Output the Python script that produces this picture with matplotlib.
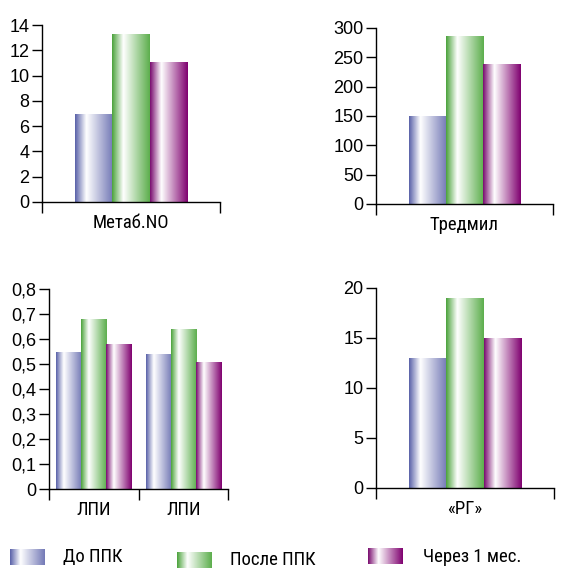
import numpy as np
import matplotlib.pyplot as plt
from matplotlib.colors import LinearSegmentedColormap
from matplotlib.ticker import FuncFormatter

plt.rcParams['font.family'] = ['Roboto Condensed', 'DejaVu Sans']
plt.rcParams['font.size'] = 13.5
num_font = {'family': ['Liberation Sans', 'DejaVu Sans'], 'size': 13}

series = ['До ППК', 'После ППК', 'Через 1 мес.']

metab_cats = ['Метаб.NO']
metab_vals = [[7.0], [13.3], [11.1]]

tred_cats = ['Тредмил']
tred_vals = [[150], [287], [238]]

lpi_cats = ['ЛПИ', 'ЛПИ']
lpi_vals = [[0.55, 0.54], [0.68, 0.64], [0.58, 0.51]]

rg_cats = ['«РГ»']
rg_vals = [[13], [19], [15]]

# left edge / highlight / right edge of each bar's shading
shades = [
    ['#5860a8', '#ffffff', '#7379b6'],
    ['#4aa23a', '#ffffff', '#5cae4c'],
    ['#780a6e', '#ffffff', '#7f006f'],
]
cmaps = [LinearSegmentedColormap.from_list('s%d' % i, [(0, c[0]), (0.3, c[1]), (1, c[2])])
         for i, c in enumerate(shades)]
grad = np.linspace(0, 1, 256).reshape(1, -1)


def fill_gradient(ax, bars, cmap):
    for b in bars:
        x, y = b.get_xy()
        w, h = b.get_width(), b.get_height()
        im = ax.imshow(grad, cmap=cmap, extent=[x, x + w, y, y + h],
                       aspect='auto', zorder=2, interpolation='bilinear')
        im.set_clip_path(b)


def draw_panel(ax, cats, vals, ymax, step, width, comma=False):
    n = len(cats)
    x = np.arange(n)
    for i, v in enumerate(vals):
        bars = ax.bar(x + (i - 1) * width, v, width, facecolor='none',
                      edgecolor='none', label=series[i])
        fill_gradient(ax, bars, cmaps[i])
    ax.set_xlim(-0.5, n - 0.5)
    ax.set_ylim(0, ymax)
    ax.set_yticks(np.arange(0, ymax + step / 2, step))
    if comma:
        ax.yaxis.set_major_formatter(FuncFormatter(
            lambda v, p: '0' if v == 0 else ('%.1f' % v).replace('.', ',')))
    for lab in ax.get_yticklabels():
        lab.set_fontproperties(num_font)
    ax.set_xticks(x)
    ax.set_xticklabels(cats)
    ax.set_xticks(np.arange(-0.5, n, 1.0), minor=True)
    ax.tick_params(axis='x', which='major', length=0, pad=8.5)
    ax.tick_params(axis='x', which='minor', length=8, width=1, direction='out')
    ax.tick_params(axis='y', length=7, width=1, direction='out', pad=2)
    for s in ['top', 'right']:
        ax.spines[s].set_visible(False)
    for s in ['left', 'bottom']:
        ax.spines[s].set_linewidth(1)


W, H = 563, 569
fig = plt.figure(figsize=(W / 100, H / 100), dpi=100)


def box(l, r, t, b):
    return [l / W, (H - b) / H, (r - l) / W, (b - t) / H]


ax1 = fig.add_axes(box(42, 220, 25, 202))
draw_panel(ax1, metab_cats, metab_vals, 14, 2, 0.21)

ax2 = fig.add_axes(box(376, 553, 28, 204))
draw_panel(ax2, tred_cats, tred_vals, 300, 50, 0.21)

ax3 = fig.add_axes(box(49, 228, 289, 489))
draw_panel(ax3, lpi_cats, lpi_vals, 0.8, 0.1, 0.28, comma=True)

ax4 = fig.add_axes(box(376, 554, 288, 488))
draw_panel(ax4, rg_cats, rg_vals, 20, 5, 0.21)

# legend row along the bottom, laid out in pixel units
lg = fig.add_axes([0, 0, 1, 1], facecolor='none')
lg.axis('off')
swatches = [(10, 549), (177, 552), (368, 548)]
texts = [(63, 557), (230, 560), (423, 557)]
for i, name in enumerate(series):
    sx, sy = swatches[i]
    lg.imshow(grad, cmap=cmaps[i], extent=[sx, sx + 35, sy + 16, sy],
              aspect='auto', interpolation='bilinear')
    lg.text(texts[i][0], texts[i][1], name, va='center', ha='left')
lg.set_xlim(0, W)
lg.set_ylim(H, 0)

fig.savefig('out.png', dpi=100)
